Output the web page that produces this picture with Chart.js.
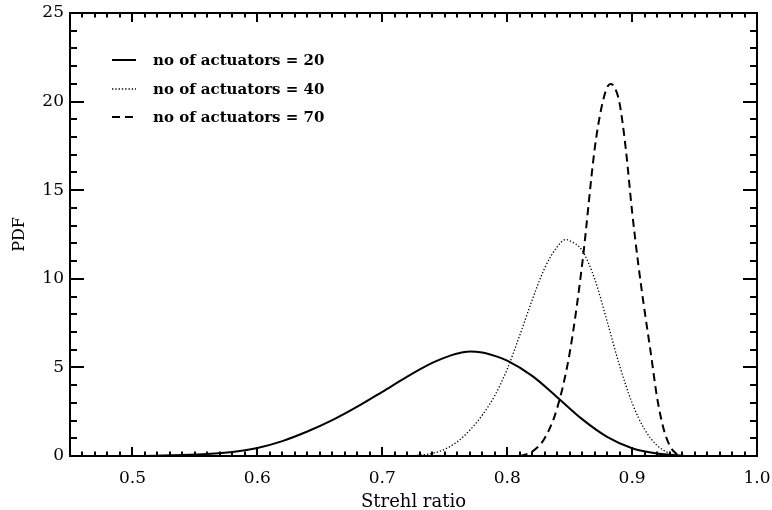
<!DOCTYPE html>
<html>
<head>
<meta charset="utf-8">
<script src="https://cdn.jsdelivr.net/npm/chart.js@4.4.1/dist/chart.umd.min.js"></script>
<style>
  html, body { margin: 0; padding: 0; background: #ffffff; }
  #wrap { width: 772px; height: 510px; position: relative; }
</style>
</head>
<body>
<div id="wrap"><canvas id="c" width="772" height="510"></canvas></div>
<script>
// ---- data ----
const seriesLabels = ['no of actuators = 20', 'no of actuators = 40', 'no of actuators = 70'];

const x20 = [0.50, 0.52, 0.54, 0.56, 0.58, 0.60, 0.62, 0.64, 0.66, 0.68, 0.70, 0.72, 0.74, 0.75, 0.76, 0.77, 0.78, 0.79, 0.80, 0.82, 0.84, 0.86, 0.88, 0.90, 0.92, 0.94, 0.95];
const y20 = [0.00, 0.02, 0.05, 0.11, 0.23, 0.45, 0.84, 1.38, 2.02, 2.78, 3.62, 4.48, 5.25, 5.55, 5.78, 5.90, 5.84, 5.65, 5.38, 4.52, 3.32, 2.08, 1.08, 0.44, 0.14, 0.02, 0.00];

const x40 = [0.72, 0.73, 0.74, 0.75, 0.76, 0.77, 0.78, 0.79, 0.80, 0.81, 0.82, 0.83, 0.84, 0.847, 0.85, 0.86, 0.87, 0.88, 0.89, 0.90, 0.91, 0.92, 0.93, 0.94];
const y40 = [0.00, 0.05, 0.15, 0.38, 0.80, 1.45, 2.30, 3.40, 4.90, 6.80, 8.80, 10.6, 11.8, 12.22, 12.15, 11.6, 10.0, 7.60, 5.10, 3.00, 1.50, 0.60, 0.15, 0.00];

const x70 = [0.81, 0.82, 0.83, 0.84, 0.85, 0.86, 0.87, 0.875, 0.88, 0.883, 0.886, 0.89, 0.895, 0.90, 0.905, 0.91, 0.915, 0.92, 0.925, 0.93, 0.935, 0.94];
const y70 = [0.00, 0.25, 1.00, 2.70, 5.80, 10.8, 17.3, 19.5, 20.8, 21.0, 20.8, 19.9, 17.3, 13.8, 10.8, 8.20, 5.80, 3.30, 1.60, 0.60, 0.15, 0.00];

const xTickValues = [0.5, 0.6, 0.7, 0.8, 0.9, 1.0];
const yTickValues = [0, 5, 10, 15, 20, 25];
const xMinorStep = 0.01;
const yMinorStep = 1;

// ---- build chart ----
const pts = (xs, ys) => xs.map((x, i) => ({ x: x, y: ys[i] }));
const FONT = "'DejaVu Serif', 'Liberation Serif', serif";

const frameAndTicks = {
  id: 'frameAndTicks',
  afterDatasetsDraw(chart) {
    const { ctx, chartArea: a, scales } = chart;
    const xs = scales.x, ys = scales.y;
    ctx.save();
    ctx.strokeStyle = '#000';
    ctx.lineWidth = 2;
    ctx.lineCap = 'butt';
    ctx.strokeRect(a.left, a.top, a.right - a.left, a.bottom - a.top);
    const xMajLen = 9, xMinLen = 4.5;
    const nX = Math.round((xs.max - xs.min) / xMinorStep);
    ctx.beginPath();
    for (let i = 0; i <= nX; i++) {
      const v = xs.min + i * xMinorStep;
      const isMaj = xTickValues.some(t => Math.abs(t - v) < 1e-6);
      const len = isMaj ? xMajLen : xMinLen;
      const px = Math.round(xs.getPixelForValue(v));
      ctx.moveTo(px, a.bottom); ctx.lineTo(px, a.bottom - len);
      ctx.moveTo(px, a.top); ctx.lineTo(px, a.top + len);
    }
    const yMajLen = 14, yMinLen = 7;
    const nY = Math.round((ys.max - ys.min) / yMinorStep);
    for (let i = 0; i <= nY; i++) {
      const v = ys.min + i * yMinorStep;
      const isMaj = yTickValues.some(t => Math.abs(t - v) < 1e-6);
      const len = isMaj ? yMajLen : yMinLen;
      const py = Math.round(ys.getPixelForValue(v));
      ctx.moveTo(a.left, py); ctx.lineTo(a.left + len, py);
      ctx.moveTo(a.right, py); ctx.lineTo(a.right - len, py);
    }
    ctx.stroke();

    // legend inside plot, upper left
    const lx0 = a.left + 42, lx1 = a.left + 66, tx = a.left + 83;
    const rows = [a.top + 47, a.top + 76, a.top + 104];
    ctx.font = "bold 15px " + FONT;
    ctx.textBaseline = 'middle';
    ctx.fillStyle = '#000';
    chart.data.datasets.forEach((ds, i) => {
      const yy = rows[i];
      ctx.beginPath();
      ctx.lineWidth = ds.borderWidth;
      ctx.setLineDash(ds.borderDash || []);
      ctx.moveTo(lx0, yy); ctx.lineTo(lx1, yy);
      ctx.stroke();
      ctx.setLineDash([]);
      ctx.fillText(ds.label, tx, yy + 1);
    });
    ctx.restore();
  }
};

new Chart(document.getElementById('c'), {
  type: 'line',
  data: {
    datasets: [
      { label: seriesLabels[0], data: pts(x20, y20), borderColor: '#000', borderWidth: 2, borderDash: [], pointRadius: 0, cubicInterpolationMode: 'monotone', fill: false },
      { label: seriesLabels[1], data: pts(x40, y40), borderColor: '#000', borderWidth: 1.3, borderDash: [1.3, 2], pointRadius: 0, cubicInterpolationMode: 'monotone', fill: false },
      { label: seriesLabels[2], data: pts(x70, y70), borderColor: '#000', borderWidth: 2, borderDash: [8, 5], pointRadius: 0, cubicInterpolationMode: 'monotone', fill: false }
    ]
  },
  options: {
    responsive: false,
    animation: false,
    devicePixelRatio: 1,
    layout: { padding: { left: 0, right: 15, top: 13, bottom: 0 } },
    plugins: { legend: { display: false }, tooltip: { enabled: false } },
    scales: {
      x: {
        type: 'linear', min: 0.45, max: 1.0,
        grid: { display: false, drawTicks: false },
        border: { display: false },
        afterBuildTicks: s => { s.ticks = xTickValues.map(v => ({ value: v })); },
        afterFit: s => { s.height = 54; s.paddingLeft = 0; s.paddingRight = 0; },
        ticks: { padding: 12, color: '#000', font: { family: FONT, size: 17 }, callback: v => Number(v).toFixed(1), maxRotation: 0 },
        title: { display: true, text: 'Strehl ratio', color: '#000', font: { family: FONT, size: 18 }, padding: { top: 0, bottom: -3 } }
      },
      y: {
        type: 'linear', min: 0, max: 25,
        grid: { display: false, drawTicks: false },
        border: { display: false },
        afterBuildTicks: s => { s.ticks = yTickValues.map(v => ({ value: v })); },
        afterFit: s => { s.width = 70; s.paddingTop = 0; s.paddingBottom = 0; },
        ticks: { padding: 6, color: '#000', font: { family: FONT, size: 17 }, callback: v => String(v) },
        title: { display: true, text: 'PDF', color: '#000', font: { family: FONT, size: 16 }, padding: { top: 10, bottom: 0 } }
      }
    }
  },
  plugins: [frameAndTicks]
});
</script>
</body>
</html>
